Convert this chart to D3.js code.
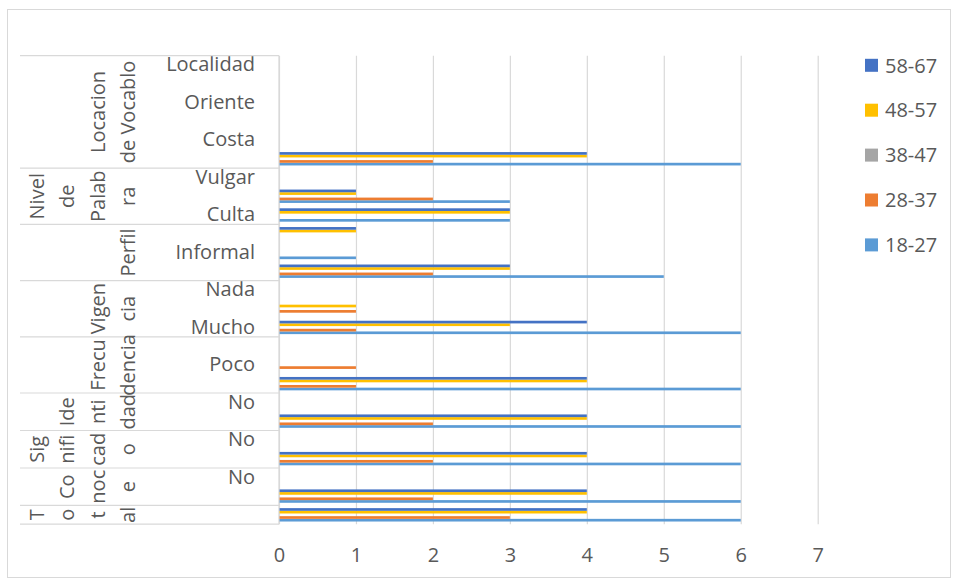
<!DOCTYPE html>
<html>
<head>
<meta charset="utf-8">
<script src="https://cdn.jsdelivr.net/npm/d3@7"></script>
<style>
  html, body { margin: 0; padding: 0; background: #ffffff; }
  svg { display: block; }
  text { font-family: "Open Sans", "Noto Sans", sans-serif; fill: #595959; }
</style>
</head>
<body>
<svg id="chart" width="958" height="581"></svg>
<script>
// Leaf categories, listed top to bottom (only every other one gets a label)
const categories = [
  "Localidad", "Sierra", "Oriente", "Insular", "Costa", "Nacional",
  "Vulgar", "Coloquial", "Culta",
  "Formal", "Informal", "Neutro",
  "Nada", "Poco", "Mucho",
  "Nada", "Poco", "Mucho",
  "No", "Sí",
  "No", "Sí",
  "No", "Sí",
  ""
];

// Outer groups: number of leaf categories in each, and the wrapped lines of its title
const groupSizes = [6, 3, 3, 3, 3, 2, 2, 2, 1];
const groupLines = [
  ["Locacion", "de Vocablo"],
  ["Nivel", "de", "Palab", "ra"],
  ["Perfil"],
  ["Vigen", "cia"],
  ["Frecu", "dencia"],
  ["Ide", "nti", "dad"],
  ["Sig", "nifi", "cad", "o"],
  ["Co", "noc", "e"],
  ["T", "o", "t", "al"]
];

// Age-range series
const seriesNames = ["18-27", "28-37", "38-47", "48-57", "58-67"];
const values18_27 = [0, 0, 0, 0, 0, 6, 0, 3, 3, 0, 1, 5, 0, 0, 6, 0, 0, 6, 0, 6, 0, 6, 0, 6, 6];
const values28_37 = [0, 0, 0, 0, 0, 2, 0, 2, 0, 0, 0, 2, 0, 1, 1, 0, 1, 1, 0, 2, 0, 2, 0, 2, 3];
const values38_47 = [0, 0, 0, 0, 0, 0, 0, 0, 0, 0, 0, 0, 0, 0, 0, 0, 0, 0, 0, 0, 0, 0, 0, 0, 0];
const values48_57 = [0, 0, 0, 0, 0, 4, 0, 1, 3, 1, 0, 3, 0, 1, 3, 0, 0, 4, 0, 4, 0, 4, 0, 4, 4];
const values58_67 = [0, 0, 0, 0, 0, 4, 0, 1, 3, 1, 0, 3, 0, 0, 4, 0, 0, 4, 0, 4, 0, 4, 0, 4, 4];
const seriesValues = [values18_27, values28_37, values38_47, values48_57, values58_67];
const seriesColors = ["#5B9BD5", "#ED7D31", "#A5A5A5", "#FFC000", "#4472C4"];

const xTicks = [0, 1, 2, 3, 4, 5, 6, 7];

// ---- layout ----
const svg = d3.select("#chart");
const plot = { left: 279, right: 817.7, top: 55.7, bottom: 524.2 };
const tableLeft = 20;
const gridColor = "#D9D9D9";

// chart frame
svg.append("rect")
  .attr("x", 7.5).attr("y", 9.5)
  .attr("width", 943).attr("height", 568)
  .attr("fill", "#fff").attr("stroke", gridColor).attr("stroke-width", 1);

const x = d3.scaleLinear().domain([0, 7]).range([plot.left, plot.right]);
const y = d3.scaleBand().domain(d3.range(categories.length)).range([plot.top, plot.bottom]).padding(0);
// series stacked top (58-67) to bottom (18-27) inside each category band
const ySub = d3.scaleBand()
  .domain(seriesNames.slice().reverse())
  .range([0, y.bandwidth()])
  .paddingInner(0).paddingOuter(1);

// value axis: gridlines and tick labels
const xAxis = svg.append("g")
  .attr("transform", `translate(0,${plot.bottom})`)
  .call(d3.axisBottom(x).tickValues(xTicks).tickFormat(d3.format("d"))
    .tickSize(-(plot.bottom - plot.top)).tickPadding(24));
xAxis.select(".domain").remove();
xAxis.selectAll(".tick line").attr("stroke", gridColor).attr("stroke-width", 1.2);
xAxis.selectAll(".tick text").style("font-size", "20px").attr("fill", "#595959");

// bars
const barLayer = svg.append("g");
seriesNames.forEach((name, si) => {
  barLayer.append("g")
    .selectAll("rect")
    .data(seriesValues[si].map((v, i) => ({ v, i })).filter(d => d.v > 0))
    .join("rect")
    .attr("x", x(0))
    .attr("y", d => y(d.i) + ySub(name))
    .attr("width", d => x(d.v) - x(0))
    .attr("height", ySub.bandwidth())
    .attr("fill", seriesColors[si]);
});

// category axis line
svg.append("line")
  .attr("x1", plot.left).attr("x2", plot.left)
  .attr("y1", plot.top).attr("y2", plot.bottom)
  .attr("stroke", gridColor).attr("stroke-width", 1.2);

// leaf labels, every other category
const yAxis = svg.append("g")
  .attr("transform", `translate(${plot.left},0)`)
  .call(d3.axisLeft(y)
    .tickValues(d3.range(0, categories.length, 2))
    .tickFormat(i => categories[i])
    .tickSize(0).tickPadding(24));
yAxis.select(".domain").remove();
yAxis.selectAll(".tick text").style("font-size", "20px").attr("fill", "#595959");

// group dividers and group titles
const starts = [0];
groupSizes.forEach((n, gi) => starts.push(starts[gi] + n));
const boundaries = starts.map(s => s < categories.length ? y(s) : plot.bottom);

svg.append("g").selectAll("line")
  .data(boundaries)
  .join("line")
  .attr("x1", tableLeft).attr("x2", plot.left)
  .attr("y1", d => d).attr("y2", d => d)
  .attr("stroke", gridColor).attr("stroke-width", 1.2);

const lineStep = 30.5;
const lastBaseline = 135;
const titles = svg.append("g");
groupLines.forEach((lines, gi) => {
  const cy = (boundaries[gi] + boundaries[gi + 1]) / 2;
  lines.forEach((txt, j) => {
    const bx = lastBaseline - (lines.length - 1 - j) * lineStep;
    titles.append("text")
      .attr("transform", `translate(${bx},${cy}) rotate(-90)`)
      .attr("text-anchor", "middle")
      .style("font-size", "20px")
      .text(txt);
  });
});

// legend
const legend = svg.append("g");
const legendOrder = seriesNames.map((n, i) => i).reverse();
legendOrder.forEach((si, k) => {
  const cy = 65.3 + k * 44.9;
  legend.append("rect")
    .attr("x", 865).attr("y", cy - 6.5)
    .attr("width", 13).attr("height", 13)
    .attr("fill", seriesColors[si]);
  legend.append("text")
    .attr("x", 885).attr("y", cy)
    .attr("dy", "0.36em")
    .style("font-size", "20px")
    .text(seriesNames[si]);
});
</script>
</body>
</html>
